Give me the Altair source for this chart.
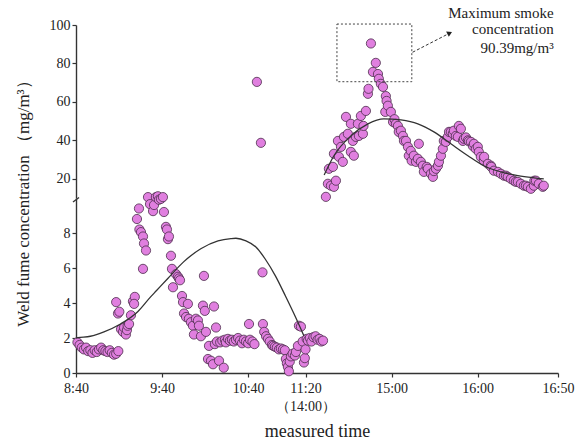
import altair as alt
import pandas as pd

FONT = "Liberation Serif"

# time in minutes after 8:40 (the afternoon continues from 11:20 = 14:00, i.e. minute 160)
am_points = [
    (1, 1.75), (2.5, 1.6), (4, 1.45), (5.5, 1.35), (7, 1.45), (8.5, 1.25), (10, 1.3), (11.5, 1.15),
    (13, 1.3), (14.5, 1.2), (16, 1.35), (17.5, 1.45), (19, 1.3), (20.5, 1.25), (22, 1.2), (23.5, 1.3),
    (25, 1.15), (26.5, 1.05), (28, 1.1), (29.5, 1.25),
    (28, 4.05), (29.3, 3.4), (30.2, 3.5), (31.4, 2.5), (32.8, 2.35), (33.5, 2.6), (34.8, 2.2), (35.5, 2.45),
    (36, 2.7), (37, 2.8), (38.3, 3.3), (39.7, 4.1), (41, 4.35), (40.5, 3.95),
    (42.5, 8.8), (43.9, 9.4), (44.2, 8.2), (45.3, 8.05), (46.7, 7.8), (47.4, 7.4), (48.8, 7.0), (46.7, 5.95),
    (50.2, 10.05), (51.6, 9.65), (53.7, 9.25), (54.4, 9.6), (55.7, 10.05), (57.1, 10.1), (57.8, 9.9),
    (59.2, 9.95), (60.6, 10.05), (61.3, 9.2), (62.7, 8.35), (63.4, 8.2), (64.1, 7.65), (64.8, 7.8),
    (66.2, 6.7), (66.9, 5.95), (67.6, 4.9), (69.7, 5.65), (71.1, 5.5), (71.8, 5.4), (72.5, 5.3), (73.9, 4.4),
    (74.6, 4.05), (75.3, 3.4), (76.7, 3.2), (78.0, 3.95), (78.7, 3.1), (80.1, 2.9), (81.5, 2.7), (82.2, 2.2),
    (83.6, 3.1), (85.0, 3.0), (85.7, 2.7), (87.1, 2.1), (88.5, 3.85), (89.2, 5.55), (89.8, 3.55), (90.6, 2.35),
    (92.0, 0.8), (92.7, 1.55), (94.1, 0.7), (95.5, 0.5), (96.2, 3.8), (97.6, 2.6), (96.8, 1.65), (99.7, 0.7),
    (103, 0.3), (98.3, 1.8), (100.5, 1.75), (102, 1.85), (103.8, 1.9), (104.5, 1.75), (105.9, 1.95),
    (107.3, 1.85), (108.7, 1.9), (110, 1.8), (111.5, 1.9), (113, 2.0), (114.3, 1.85), (115.7, 1.7),
    (117, 1.9), (118.5, 1.8), (120, 1.7), (120.6, 2.8), (121.3, 1.9), (123, 1.8), (124.4, 1.65),
    (126.1, 70.4), (128.9, 38.7),
    (130, 5.75), (130.3, 2.8), (131.2, 2.35), (132.5, 2.1), (133.8, 1.95), (135, 1.8), (136.6, 1.6),
    (137.5, 1.55), (138.7, 1.5), (140, 1.45), (141.5, 1.35), (142.8, 1.4), (144.3, 1.35), (145.6, 1.3),
    (146.3, 0.8), (147, 0.55), (147.7, 0.35), (148.4, 0.1), (149, 0.65), (149.8, 0.95), (151, 1.1),
    (152.6, 1.0), (153.3, 1.2), (154.7, 1.55), (155.4, 2.7), (156.8, 2.65), (158, 1.8), (158.9, 0.6),
    (159.5, 0.85), (160, 1.35),
]

pm_points = [
    (160.8, 1.95), (161.7, 1.85), (163, 2.0), (164.1, 1.8), (165.5, 2.05), (167, 2.1), (168.4, 1.9),
    (169.8, 1.95), (171, 1.8), (172.2, 1.85),
    (174.2, 10.6), (175.6, 17.4), (176.3, 25.2), (177.7, 16.4), (179.1, 26.2), (179.8, 15.8), (179.8, 33.0),
    (181.2, 19.0), (182.6, 39.7), (183.3, 31.4), (184.7, 36.6), (186.0, 28.8), (186.8, 41.8), (188.2, 52.2),
    (189.5, 43.4), (191.6, 48.6), (191.6, 34.0), (193.0, 39.7), (193.7, 32.0), (195.1, 41.8), (196.5, 48.6),
    (197.2, 42.3), (198.6, 52.7), (200.0, 43.4), (200.4, 47.5), (202.1, 55.3), (203.5, 64.2), (203.9, 66.8),
    (205.6, 90.39), (207.0, 75.6), (209.0, 80.3), (210.5, 74.5), (211.1, 72.0), (212.5, 69.4), (214.0, 67.8),
    (215.6, 54.8), (216.0, 63.0), (216.5, 60.5), (217.4, 58.0), (219.5, 54.8), (221.0, 49.6), (222.0, 51.0),
    (223.0, 48.6), (224.4, 47.5), (225.0, 44.4), (226.5, 45.0), (227.9, 42.3), (228.6, 39.7), (230.0, 39.7),
    (231.4, 36.6), (232.0, 32.0), (233.4, 34.5), (234.0, 29.4), (235.5, 32.0), (237.0, 28.8), (238.3, 30.4),
    (239.0, 38.2), (240.4, 28.8), (241.8, 26.8), (242.5, 23.6), (244.5, 26.2), (245.3, 25.2), (247.4, 22.6),
    (248.8, 21.0), (249.5, 24.0), (250.9, 25.2), (252.3, 26.8), (253.0, 28.8), (254.4, 32.0), (255.7, 35.6),
    (256.4, 39.7), (257.8, 39.2), (259.2, 41.8), (260.0, 44.4), (261.3, 44.4), (262.7, 43.4), (263.4, 45.0),
    (264.8, 42.3), (266.2, 41.8), (266.9, 47.5), (268.3, 46.0), (269.7, 39.7), (270.4, 40.8), (271.8, 41.5),
    (273.2, 40.0), (273.9, 39.5), (275.3, 39.2), (276.7, 37.0), (277.4, 38.2), (278.7, 35.6), (280.1, 36.6),
    (280.8, 34.0), (282.2, 31.4), (284.3, 29.4), (284.5, 31.4), (287.1, 27.8), (289.2, 26.8), (289.5, 26.2),
    (291.3, 24.2), (294.1, 23.6), (296.2, 22.6), (298.3, 21.6), (299.7, 21.6), (301.0, 21.0), (303.1, 20.0),
    (305.2, 19.0), (306.6, 18.4), (308.0, 18.4), (310.1, 17.4), (312.2, 16.4), (313.6, 16.4), (315.0, 15.8),
    (317.1, 14.8), (319.2, 16.4), (319.5, 19.0), (320.6, 19.0), (322.6, 17.4), (325.4, 15.8), (326.1, 16.4),
]

fit_am = [
    (0, 2.0), (1.4, 2.02), (10, 2.1), (19.5, 2.35), (31, 2.8), (43, 3.5), (52, 4.35), (56, 4.7), (64, 5.4),
    (75, 6.35), (87, 7.1), (99, 7.55), (108, 7.68), (111.5, 7.7), (118.5, 7.55), (125.4, 7.2), (132, 6.5),
    (139, 5.55), (146, 4.4), (153, 3.2), (159, 2.1),
]
fit_pm = [
    (173, 22.0), (179.8, 32.0), (191.6, 42.3), (203.5, 48.6), (214.6, 51.2), (226.5, 50.6), (238.3, 48.6),
    (249.5, 44.4), (261.3, 38.2), (273.2, 32.0), (284.3, 26.8), (296.2, 23.6), (308, 21.6), (319.2, 20.5),
    (326.1, 20.0),
]

x_tick_values = [0, 60, 120, 160, 220, 280, 336]
x_tick_text = ["8:40", "9:40", "10:40", ["11:20", "（14:00）"], "15:00", "16:00", "16:50"]
y_upper_ticks = [20, 40, 60, 80, 100]
y_lower_ticks = [0, 2, 4, 6, 8]

box = {"t": [181.9], "t2": [234.1], "v": [70.5], "v2": [100.5]}
arrow_line = {"t": [234.6, 258.5], "v": [85.8, 95.0]}
arrow_head = {"t": [260.0], "v": [95.6]}
note_text = {"t": [333, 333, 333], "v": [106.2, 97.9, 88.2],
             "text": ["Maximum smoke", "concentration", "90.39mg/m³"]}
break_mark = {"t": [-2.1], "t2": [2.1], "v": [9.77], "v2": [10.03]}

W = 482
H_UP = 173
H_LO = 175
POINT_FILL = "#e07fdf"
POINT_STROKE = "#4b2d4b"


def label_expr():
    parts = []
    for val, txt in zip(x_tick_values, x_tick_text):
        if isinstance(txt, list):
            s = "[" + ",".join("'" + x + "'" for x in txt) + "]"
        else:
            s = "'" + txt + "'"
        parts.append("datum.value == %s ? %s : " % (val, s))
    return "".join(parts) + "''"


pts = pd.DataFrame(am_points + pm_points, columns=["t", "v"])
pts_up = pts[pts.v > 10.2]
pts_lo = pts[pts.v <= 10.2]

xs = alt.Scale(domain=[0, 336], nice=False, zero=False)
ys_up = alt.Scale(domain=[10, 100], nice=False, zero=False)
ys_lo = alt.Scale(domain=[0, 10], nice=False, zero=False)

X_UP = alt.X("t:Q", scale=xs, axis=None)
Y_UP = alt.Y("v:Q", scale=ys_up, axis=alt.Axis(values=y_upper_ticks, title=None))
X_LO = alt.X("t:Q", scale=xs, axis=alt.Axis(
    values=x_tick_values, labelExpr=label_expr(), title="measured time",
    titleFontSize=18, titleY=63, titleBaseline="alphabetic", labelLineHeight=18,
    labelPadding=4, labelFlush=False, labelOverlap=False))
Y_LO = alt.Y("v:Q", scale=ys_lo, axis=alt.Axis(
    values=y_lower_ticks, title="Weld fume concentration （mg/m³）",
    titleFontSize=17, titleX=-48, titleY=1, titleAngle=270, titleAlign="center",
    titleBaseline="alphabetic"))

point_mark = dict(size=85, color=POINT_FILL, stroke=POINT_STROKE, strokeWidth=0.8, opacity=1)

# ---------- upper panel ----------
up_points = alt.Chart(pts_up).mark_circle(**point_mark).encode(x=X_UP, y=Y_UP)
up_fit = alt.Chart(pd.DataFrame(fit_pm, columns=["t", "v"])).mark_line(
    color="#333333", strokeWidth=1.3, interpolate="monotone").encode(x=X_UP, y=Y_UP)
up_box = alt.Chart(pd.DataFrame(box)).mark_rect(
    fillOpacity=0, stroke="#444444", strokeWidth=1, strokeDash=[2, 2]
).encode(x=X_UP, x2="t2", y=Y_UP, y2="v2")
up_arrow = alt.Chart(pd.DataFrame(arrow_line)).mark_line(
    color="#333333", strokeWidth=1, strokeDash=[3, 2]).encode(x=X_UP, y=Y_UP)
up_head = alt.Chart(pd.DataFrame(arrow_head)).mark_point(
    shape="triangle", angle=63, size=35, filled=True, color="#222222", opacity=1
).encode(x=X_UP, y=Y_UP)
up_text = alt.Chart(pd.DataFrame(note_text)).mark_text(
    align="right", baseline="middle", font=FONT, fontSize=15, color="#222222"
).encode(x=X_UP, y=Y_UP, text="text:N")

upper = alt.layer(up_points, up_fit, up_box, up_arrow, up_head, up_text).properties(width=W, height=H_UP)

# ---------- lower panel ----------
lo_points = alt.Chart(pts_lo).mark_circle(**point_mark).encode(x=X_LO, y=Y_LO)
lo_fit = alt.Chart(pd.DataFrame(fit_am, columns=["t", "v"])).mark_line(
    color="#333333", strokeWidth=1.3, interpolate="monotone").encode(x=X_LO, y=Y_LO)
lo_break = alt.Chart(pd.DataFrame(break_mark)).mark_rule(color="#333333", strokeWidth=1.4).encode(
    x=X_LO, x2="t2", y=Y_LO, y2="v2")

lower = alt.layer(lo_points, lo_fit, lo_break).properties(width=W, height=H_LO)

chart = alt.vconcat(upper, lower, spacing=0, bounds="flush").configure_view(stroke=None).configure_axis(
    domainColor="#333333", domainWidth=1.4, tickColor="#333333", tickWidth=1.2, tickSize=4,
    labelFont=FONT, labelFontSize=14, labelColor="#222222", labelPadding=2,
    titleFont=FONT, titleColor="#222222", titleFontWeight="normal", grid=False,
).properties(padding={"left": 13, "top": 6, "right": 5, "bottom": 5})

chart.save("out.html", embed_options={"renderer": "svg", "actions": False})
